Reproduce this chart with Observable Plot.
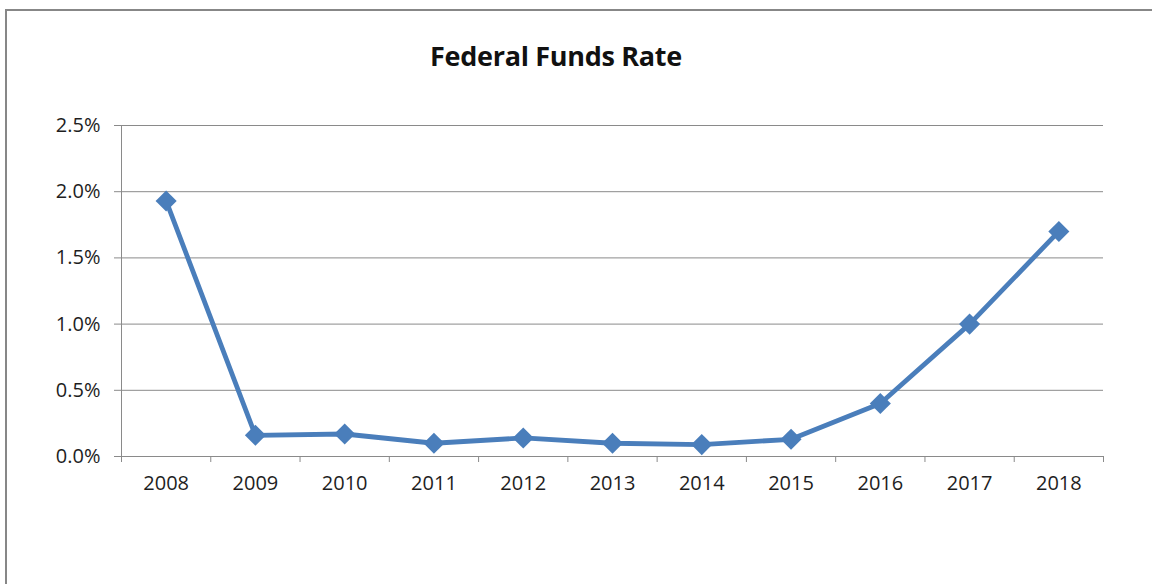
<!DOCTYPE html>
<html>
<head>
<meta charset="utf-8">
<script src="https://cdn.jsdelivr.net/npm/d3@7"></script>
<script src="https://cdn.jsdelivr.net/npm/@observablehq/plot@0.6"></script>
<style>
  html, body { margin: 0; padding: 0; background: #fff; overflow: hidden; }
  #wrap { position: relative; width: 1152px; height: 584px; overflow: hidden; }
  #frame { position: absolute; left: 5px; top: 9px; width: 1300px; height: 800px; border: 2px solid #878787; box-sizing: border-box; }
  #title { position: absolute; left: 0; width: 1112px; top: 38px; text-align: center; font-family: "Open Sans", sans-serif; font-weight: 700; font-size: 27px; letter-spacing: -0.3px; color: #111; line-height: 36px; }
  #chart { position: absolute; left: 0; top: 0; }
</style>
</head>
<body>
<div id="wrap">
  <div id="frame"></div>
  <div id="chart"></div>
  <div id="title">Federal Funds Rate</div>
</div>
<script>
const years = [2008, 2009, 2010, 2011, 2012, 2013, 2014, 2015, 2016, 2017, 2018];
const rates = [1.93, 0.16, 0.17, 0.10, 0.14, 0.10, 0.09, 0.13, 0.40, 1.00, 1.70];
const yTicks = [0, 0.5, 1.0, 1.5, 2.0, 2.5];

const data = years.map((year, i) => ({year, rate: rates[i]}));
const boundaries = years.map(y => y - 0.5).concat([years[years.length - 1] + 0.5]);

const gridColor = "#8a8a8a";
const textColor = "#1e1e1e";
const lineColor = "#4a7ebb";

const chart = Plot.plot({
  width: 1152,
  height: 584,
  marginLeft: 121,
  marginRight: 49,
  marginTop: 125,
  marginBottom: 128,
  style: {fontFamily: "'Open Sans', sans-serif", fontSize: "20px", color: textColor, background: "transparent"},
  x: {type: "linear", domain: [boundaries[0], boundaries[boundaries.length - 1]]},
  y: {domain: [0, 2.5]},
  marks: [
    Plot.gridY(yTicks, {stroke: gridColor, strokeOpacity: 1, strokeWidth: 1}),
    Plot.ruleX([boundaries[0]], {y1: 0, y2: 2.5, stroke: gridColor, strokeWidth: 1}),
    Plot.axisY(yTicks, {
      tickSize: 7, tickPadding: 14, stroke: gridColor, strokeOpacity: 1,
      tickFormat: d => d.toFixed(1) + "%", fill: textColor, label: null, fontSize: 20,
      style: {letterSpacing: "-1px"}
    }),
    Plot.axisX(boundaries, {tickSize: 6, tickFormat: () => "", stroke: gridColor, strokeOpacity: 1, label: null}),
    Plot.axisX(years, {tickSize: 0, tickPadding: 19, tickFormat: d => String(d), fill: textColor, label: null, fontSize: 20, style: {letterSpacing: "-1.1px"}}),
    Plot.line(data, {x: "year", y: "rate", stroke: lineColor, strokeWidth: 4.8, strokeLinejoin: "miter"}),
    Plot.dot(data, {x: "year", y: "rate", symbol: "diamond2", r: 9.5, fill: lineColor, stroke: "none"})
  ]
});
document.getElementById("chart").appendChild(chart);
</script>
</body>
</html>
